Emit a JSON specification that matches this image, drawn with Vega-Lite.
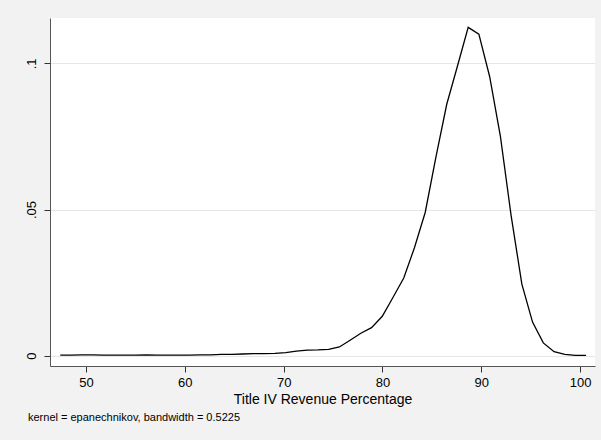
{
  "$schema": "https://vega.github.io/schema/vega-lite/v6.json",
  "width": 545,
  "height": 348,
  "autosize": "none",
  "padding": {"left": 50, "top": 18, "right": 6, "bottom": 74},
  "background": "#f2f2f2",
  "config": {
    "view": {"fill": "white", "stroke": null},
    "font": "Liberation Sans"
  },
  "title": {
    "text": "kernel = epanechnikov, bandwidth = 0.5225",
    "orient": "bottom",
    "anchor": "start",
    "fontSize": 11,
    "fontWeight": "normal",
    "color": "#000",
    "offset": 6,
    "dx": 3
  },
  "data": {
    "values": [
      {"x": 47.40, "d": 0.0002}, {"x": 48.49, "d": 0.0002}, {"x": 49.57, "d": 0.0003},
      {"x": 50.66, "d": 0.0003}, {"x": 51.74, "d": 0.0002}, {"x": 52.83, "d": 0.0002},
      {"x": 53.92, "d": 0.0002}, {"x": 55.00, "d": 0.0002}, {"x": 56.09, "d": 0.0003},
      {"x": 57.17, "d": 0.0002}, {"x": 58.26, "d": 0.0002}, {"x": 59.35, "d": 0.0002},
      {"x": 60.43, "d": 0.0002}, {"x": 61.52, "d": 0.0003}, {"x": 62.60, "d": 0.0003},
      {"x": 63.69, "d": 0.0005}, {"x": 64.78, "d": 0.0005}, {"x": 65.86, "d": 0.0006},
      {"x": 66.95, "d": 0.0007}, {"x": 68.03, "d": 0.0007}, {"x": 69.12, "d": 0.0008},
      {"x": 70.21, "d": 0.0011}, {"x": 71.29, "d": 0.0016}, {"x": 72.38, "d": 0.0019},
      {"x": 73.46, "d": 0.0020}, {"x": 74.55, "d": 0.0022}, {"x": 75.64, "d": 0.0030},
      {"x": 76.72, "d": 0.0053}, {"x": 77.81, "d": 0.0077}, {"x": 78.89, "d": 0.0096},
      {"x": 79.98, "d": 0.0135}, {"x": 81.07, "d": 0.0200}, {"x": 82.15, "d": 0.0266},
      {"x": 83.24, "d": 0.0370}, {"x": 84.32, "d": 0.0490}, {"x": 85.41, "d": 0.0680},
      {"x": 86.50, "d": 0.0860}, {"x": 87.58, "d": 0.0990}, {"x": 88.67, "d": 0.1123},
      {"x": 89.75, "d": 0.1100}, {"x": 90.84, "d": 0.0955}, {"x": 91.93, "d": 0.0750},
      {"x": 93.01, "d": 0.0480}, {"x": 94.10, "d": 0.0245}, {"x": 95.18, "d": 0.0115},
      {"x": 96.27, "d": 0.0044}, {"x": 97.36, "d": 0.0014}, {"x": 98.44, "d": 0.0005},
      {"x": 99.53, "d": 0.0001}, {"x": 100.60, "d": 0.0001}
    ]
  },
  "mark": {"type": "line", "color": "black", "strokeWidth": 1.3, "clip": true},
  "encoding": {
    "x": {
      "field": "x",
      "type": "quantitative",
      "scale": {"domain": [46.36, 101.5], "nice": false, "zero": false},
      "axis": {
        "values": [50, 60, 70, 80, 90, 100],
        "title": "Title IV Revenue Percentage",
        "titleFontSize": 14,
        "titleFontWeight": "normal",
        "titleColor": "#000",
        "titlePadding": 3,
        "labelFontSize": 13,
        "labelColor": "#000",
        "labelPadding": 4,
        "tickSize": 6,
        "tickColor": "#333",
        "domainColor": "#555",
        "grid": false
      }
    },
    "y": {
      "field": "d",
      "type": "quantitative",
      "scale": {"domain": [-0.0035, 0.1155], "nice": false, "zero": false},
      "axis": {
        "values": [0, 0.05, 0.1],
        "labelExpr": "datum.value == 0 ? '0' : replace(format(datum.value, '.2~f'), /^0/, '')",
        "title": null,
        "labelAngle": -90,
        "labelAlign": "center",
        "labelBaseline": "bottom",
        "labelFontSize": 13,
        "labelColor": "#000",
        "labelPadding": 6,
        "tickSize": 6,
        "tickColor": "#333",
        "domainColor": "#555",
        "grid": true,
        "gridColor": "#e6e6e6",
        "gridWidth": 1
      }
    }
  }
}
